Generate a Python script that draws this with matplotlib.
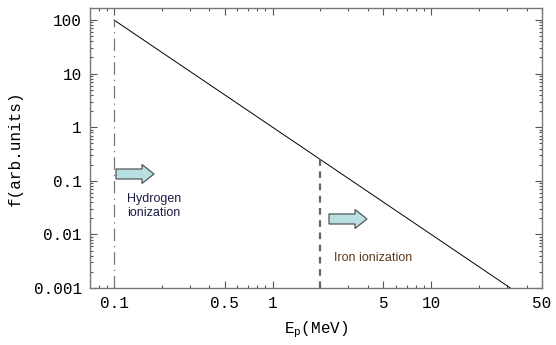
import numpy as np
import matplotlib
matplotlib.use("Agg")
import matplotlib.pyplot as plt
import matplotlib.patches as mpatches
from matplotlib.ticker import FixedLocator, LogLocator, NullFormatter

# spectrum f ~ E^-2
energy = [0.1, 1.0, 10.0, 31.6]
flux = [100.0, 1.0, 0.01, 0.001]

# ionization thresholds (MeV) and where their marker lines stop
h_edge, h_top = 0.1, 100.0
fe_edge, fe_top = 2.0, 0.25

xticks = [0.1, 0.5, 1, 5, 10, 50]
xticklabels = ["0.1", "0.5", "1", "5", "10", "50"]
yticks = [0.001, 0.01, 0.1, 1, 10, 100]
yticklabels = ["0.001", "0.01", "0.1", "1", "10", "100"]

plt.rcParams['mathtext.fontset'] = 'custom'
plt.rcParams['mathtext.rm'] = 'Liberation Mono'

mono = "Liberation Mono"
fig = plt.figure(figsize=(5.56, 3.45), dpi=100)
ax = fig.add_axes([0.1619, 0.1652, 0.8129, 0.8116])

ax.plot(energy, flux, color="black", lw=0.7)
ax.plot([h_edge, h_edge], [1e-3, h_top], color="#777777", lw=0.9,
        dashes=(10, 4, 1, 4))
ax.plot([fe_edge, fe_edge], [1e-3, fe_top], color="#666666", lw=1.6,
        dashes=(3, 2.5))

ax.set_xscale("log")
ax.set_yscale("log")
ax.set_xlim(0.0706, 50)
ax.set_ylim(0.001, 10 ** 2.224)

ax.xaxis.set_major_locator(FixedLocator(xticks))
ax.set_xticklabels(xticklabels, fontfamily=mono, fontsize=11.5)
ax.yaxis.set_major_locator(FixedLocator(yticks))
ax.set_yticklabels(yticklabels, fontfamily=mono, fontsize=11.5)
ax.xaxis.set_minor_locator(LogLocator(base=10, subs=np.arange(2, 10)))
ax.yaxis.set_minor_locator(LogLocator(base=10, subs=np.arange(2, 10), numticks=20))
ax.xaxis.set_minor_formatter(NullFormatter())
ax.yaxis.set_minor_formatter(NullFormatter())

ax.tick_params(which="both", direction="in", top=True, right=True,
               color="#555555", width=0.8)
ax.tick_params(which="major", length=5, pad=6)
ax.tick_params(which="minor", length=2.5)
for s in ax.spines.values():
    s.set_color("#777777")
    s.set_linewidth(1.0)

ax.set_xlabel(r"$\mathrm{E_p}$(MeV)", fontfamily=mono, fontsize=11.5,
              labelpad=6)
ax.set_ylabel("f(arb.units)", fontfamily=mono, fontsize=11.5, labelpad=8)

# block arrows, placed in inches from the lower-left corner
for x0, y0 in [(1.16, 1.71), (3.29, 1.26)]:
    arr = mpatches.FancyArrow(x0, y0, 0.38, 0, width=0.10, head_width=0.19,
                              head_length=0.12, length_includes_head=True,
                              facecolor="#b8e0e2", edgecolor="#555555",
                              lw=0.9, transform=fig.dpi_scale_trans)
    fig.patches.append(arr)

fig.text(127 / 556, 1 - 206 / 345, "Hydrogen\nionization", fontsize=9,
         family="Liberation Sans", color="#1c1c48", va="center",
         linespacing=1.2)
fig.text(334 / 556, 1 - 258 / 345, "Iron ionization", fontsize=9,
         family="Liberation Sans", color="#5a3a18", va="center")

fig.savefig("out.png", dpi=100)
